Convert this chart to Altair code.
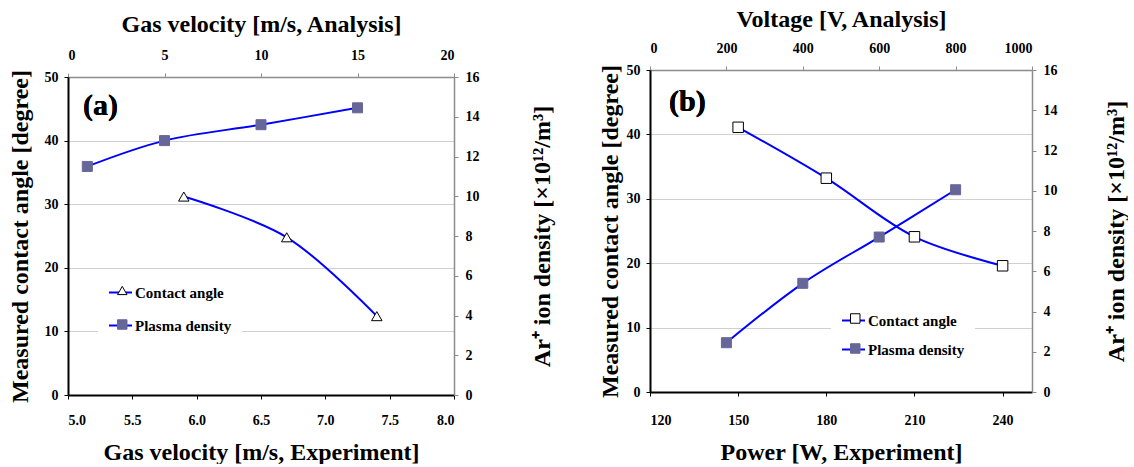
import altair as alt
import pandas as pd

# ---------------- data ----------------
series = ["Contact angle", "Plasma density"]
marker_keys = ["ca", "pd"]   # keys for the marker part of the legend (labels hidden)

# Panel (a)
a_ca_velocity = [5.9, 6.7, 7.4]          # Gas velocity [m/s, Experiment]
a_ca_angle = [31.2, 24.8, 12.4]          # Measured contact angle [degree]
a_pd_velocity = [1, 5, 10, 15]           # Gas velocity [m/s, Analysis]
a_pd_density = [11.5, 12.8, 13.6, 14.45] # Ar+ ion density [x10^12/m^3]

# Panel (b)
b_ca_power = [150, 180, 210, 240]        # Power [W, Experiment]
b_ca_angle = [41.1, 33.2, 24.1, 19.6]
b_pd_voltage = [200, 400, 600, 800]      # Voltage [V, Analysis]
b_pd_density = [2.45, 5.4, 7.7, 10.05]

a_bottom_ticks = [5.0, 5.5, 6.0, 6.5, 7.0, 7.5, 8.0]
a_top_ticks = [0, 5, 10, 15, 20]
b_bottom_ticks = [120, 150, 180, 210, 240]
b_top_ticks = [0, 200, 400, 600, 800, 1000]
left_ticks = [0, 10, 20, 30, 40, 50]
right_ticks = [0, 2, 4, 6, 8, 10, 12, 14, 16]

FONT = "Liberation Serif"
BLUE = "#0000ff"
SLATE = "#666699"
GRAY = "#8c8c8c"


def make_panel(ca_x, ca_y, pd_x, pd_y, bottom, top, ca_shape, letter, letter_pos,
               w, h, top_shift, leg_x, leg_y, pitch, top_lpad, top_tpad, bot_pad,
               left_tpad, right_tpad):
    bx_dom, bx_ticks, bx_title, bx_fmt = bottom
    tx_dom, tx_ticks, tx_title, tx_fmt = top

    ca_df = pd.DataFrame({"x": ca_x, "y": ca_y, "lseries": series[0], "pseries": marker_keys[0]})
    pd_df = pd.DataFrame({"x": pd_x, "y": pd_y, "lseries": series[1], "pseries": marker_keys[1]})

    leg_common = dict(orient="none", title=None, labelFont=FONT, labelFontSize=15,
                      labelFontWeight="bold", padding=10, labelOffset=2, symbolOpacity=1)
    leg_line = alt.Legend(legendX=leg_x, legendY=leg_y, symbolType="stroke",
                          symbolSize=529, symbolStrokeWidth=2, fillColor="white",
                          rowPadding=pitch - 21, labelColor="black", **leg_common)
    leg_mark = alt.Legend(legendX=leg_x + 6.75, legendY=leg_y + 3, symbolSize=90,
                          symbolStrokeWidth=1, labelExpr="''", rowPadding=pitch - 15,
                          **leg_common)

    color_enc = alt.Color("lseries:N", scale=alt.Scale(domain=series, range=[BLUE, BLUE]),
                          legend=leg_line)
    shape_enc = alt.Shape("pseries:N", scale=alt.Scale(domain=marker_keys, range=[ca_shape, "square"]),
                          legend=leg_mark)
    fill_enc = alt.Fill("pseries:N", scale=alt.Scale(domain=marker_keys, range=["white", SLATE]),
                        legend=leg_mark)
    stroke_enc = alt.Stroke("pseries:N", scale=alt.Scale(domain=marker_keys, range=["black", SLATE]),
                            legend=leg_mark)

    y_range = [h, top_shift]
    x_bottom = alt.X("x:Q", scale=alt.Scale(domain=bx_dom, nice=False, zero=False),
                     axis=alt.Axis(orient="bottom", title=bx_title, values=bx_ticks, format=bx_fmt,
                                   domainColor="black", domainWidth=2, tickColor="black",
                                   tickSize=4, labelPadding=bot_pad, titlePadding=13,
                                   grid=False))
    y_left = alt.Y("y:Q", scale=alt.Scale(domain=[0, 50], nice=False, range=y_range),
                   axis=alt.Axis(orient="left", title="Measured contact angle [degree]",
                                 values=left_ticks, domainColor="black", domainWidth=2,
                                 tickColor="black", tickSize=4, labelPadding=6,
                                 titlePadding=left_tpad, grid=True, gridColor="#d0d0d0"))
    x_top = alt.X("x:Q", scale=alt.Scale(domain=tx_dom, nice=False, zero=False),
                  axis=alt.Axis(orient="top", title=tx_title, values=tx_ticks, format=tx_fmt,
                                offset=-top_shift,
                                domainColor=GRAY, domainWidth=1.5, tickColor=GRAY,
                                tickSize=4, labelPadding=top_lpad, titlePadding=top_tpad,
                                grid=False))
    y_right = alt.Y("y:Q", scale=alt.Scale(domain=[0, 16], nice=False, range=y_range),
                    axis=alt.Axis(orient="right", title="Ar\u207a ion density [\u00d710\u00b9\u00b2/m\u00b3]",
                                  values=right_ticks, domainColor=GRAY, domainWidth=1.5,
                                  tickColor=GRAY, tickSize=4, labelPadding=7,
                                  titlePadding=right_tpad, titleAngle=270, titleBaseline="top",
                                  grid=False))

    ca_base = alt.Chart(ca_df).encode(x=x_bottom, y=y_left)
    ca_line = ca_base.mark_line(interpolate="catmull-rom", strokeWidth=2).encode(color=color_enc)
    ca_pts = ca_base.mark_point(filled=True, size=110, opacity=1, strokeWidth=1).encode(
        shape=shape_enc, fill=fill_enc, stroke=stroke_enc)
    ca_text = alt.Chart(ca_df).mark_text(text=letter, font=FONT, fontSize=30, fontWeight="bold",
                                         align="left", baseline="middle", color="black").encode(
        x=alt.value(letter_pos[0]), y=alt.value(letter_pos[1]))

    pd_base = alt.Chart(pd_df).encode(x=x_top, y=y_right)
    pd_line = pd_base.mark_line(interpolate="catmull-rom", strokeWidth=2).encode(color=color_enc)
    pd_pts = pd_base.mark_point(filled=True, size=100, opacity=1, strokeWidth=1).encode(
        shape=shape_enc, fill=fill_enc, stroke=stroke_enc)

    left_layer = alt.layer(ca_line, ca_pts, ca_text)
    right_layer = alt.layer(pd_line, pd_pts)
    return alt.layer(left_layer, right_layer).resolve_scale(
        x="independent", y="independent").properties(width=w, height=h)


panel_a = make_panel(
    a_ca_velocity, a_ca_angle, a_pd_velocity, a_pd_density,
    ([5.0, 8.0], a_bottom_ticks, "Gas velocity [m/s, Experiment]", ".1f"),
    ([0, 20], a_top_ticks, "Gas velocity [m/s, Analysis]", "d"),
    "triangle-up", "(a)", (15, 36),
    386, 325, 7, 30, 200, 33, 11, 12, 14, 12, 51)

panel_b = make_panel(
    b_ca_power, b_ca_angle, b_pd_voltage, b_pd_density,
    ([120, 250], b_bottom_ticks, "Power [W, Experiment]", "d"),
    ([0, 1000], b_top_ticks, "Voltage [V, Analysis]", "d"),
    "square", "(b)", (19, 32),
    382, 322, 0, 181, 228, 29, 11, 10, 17, 4, 47)

chart = alt.hconcat(panel_a, panel_b, spacing=44).resolve_scale(
    color="independent", shape="independent", fill="independent", stroke="independent"
).resolve_legend(
    color="independent", shape="independent", fill="independent", stroke="independent"
).properties(
    padding={"left": 8, "top": 7, "right": 0, "bottom": 0}, background="white"
).configure_view(
    stroke=None
).configure_axis(
    labelFont=FONT, labelFontSize=14, labelFontWeight="bold", labelColor="black",
    titleFont=FONT, titleFontSize=24, titleFontWeight="bold", titleColor="black"
)

chart.save("out.html", embed_options={"renderer": "svg", "actions": False})
